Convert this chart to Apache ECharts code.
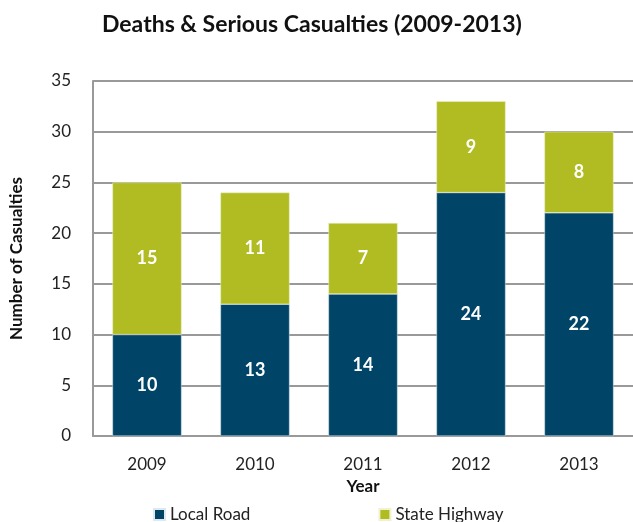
<!DOCTYPE html>
<html><head><meta charset="utf-8">
<script src="https://cdn.jsdelivr.net/npm/echarts@6/dist/echarts.min.js"></script>
<style>html,body{margin:0;padding:0;background:#fff}#c{width:633px;height:522px}</style>
</head><body><div id="c"></div>
<script>
const years = ['2009','2010','2011','2012','2013'];
const localRoad = [10, 13, 14, 24, 22];
const stateHighway = [15, 11, 7, 9, 8];
const yTicks = {min: 0, max: 35, interval: 5};

const chart = echarts.init(document.getElementById('c'), null, {renderer: 'canvas'});
const font = 'Lato, "Open Sans", sans-serif';
const lbl = {show: true, position: 'inside', color: '#fff', fontSize: 18, fontWeight: 'bold', fontFamily: font};
chart.setOption({
  animation: false,
  textStyle: {fontFamily: font},
  title: {text: 'Deaths & Serious Casualties (2009-2013)', left: 97, top: 8,
    textStyle: {fontSize: 23, fontWeight: 'bold', color: '#111', fontFamily: font}},
  grid: {left: 90, right: -3, top: 81, bottom: 86},
  legend: {bottom: -6, left: 148, itemGap: 128, itemWidth: 11, itemHeight: 11, icon: 'rect',
    textStyle: {fontSize: 17, color: '#222', fontFamily: font},
    data: ['Local Road', 'State Highway']},
  xAxis: {type: 'category', data: years, name: 'Year', nameLocation: 'middle', nameGap: 37,
    nameTextStyle: {fontSize: 17, fontWeight: 'bold', color: '#111', fontFamily: font},
    axisLine: {lineStyle: {color: '#999', width: 2}}, axisTick: {show: false},
    axisLabel: {fontSize: 17, color: '#222', margin: 20, fontFamily: font}},
  yAxis: {type: 'value', min: yTicks.min, max: yTicks.max, interval: yTicks.interval,
    name: 'Number of Casualties', nameLocation: 'middle', nameGap: 68, nameRotate: 90,
    nameTextStyle: {fontSize: 17, fontWeight: 'bold', color: '#111', fontFamily: font},
    axisLine: {show: true, lineStyle: {color: '#999', width: 2}},
    axisTick: {show: false},
    splitLine: {lineStyle: {color: '#999', width: 2}},
    axisLabel: {fontSize: 17, color: '#222', margin: 22, fontFamily: font}},
  series: [
    {name: 'Local Road', type: 'bar', stack: 't', data: localRoad, barWidth: '64%',
     itemStyle: {color: '#004467', borderColor: '#dfe8ee', borderWidth: 0.5}, label: lbl},
    {name: 'State Highway', type: 'bar', stack: 't', data: stateHighway, barWidth: '64%',
     itemStyle: {color: '#b0bc21', borderColor: '#eef2d0', borderWidth: 0.5}, label: lbl}
  ]
});
</script></body></html>
